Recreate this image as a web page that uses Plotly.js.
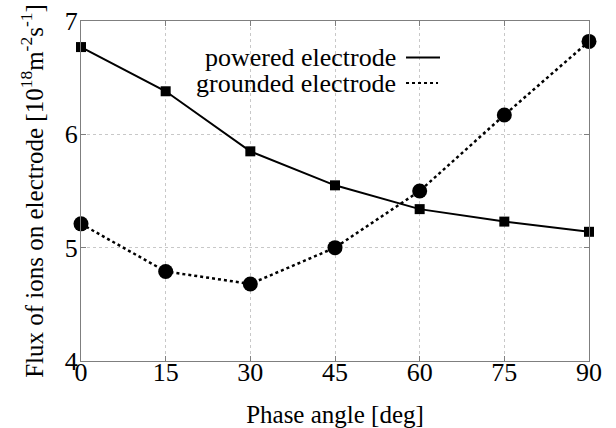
<!DOCTYPE html>
<html>
<head>
<meta charset="utf-8">
<script src="https://cdn.plot.ly/plotly-3.0.1.min.js"></script>
<style>html,body{margin:0;padding:0;background:#fff;}#chart{width:616px;height:428px;}</style>
</head>
<body>
<div id="chart"></div>
<script>
// Data
var phaseAngle = [0, 15, 30, 45, 60, 75, 90];
var poweredFlux = [6.77, 6.38, 5.85, 5.55, 5.34, 5.23, 5.14];
var groundedFlux = [5.21, 4.79, 4.68, 5.00, 5.50, 6.17, 6.82];
var seriesNames = ['powered electrode', 'grounded electrode'];
var xTicks = [0, 15, 30, 45, 60, 75, 90];
var yTicks = [4, 5, 6, 7];

var FONT = '"Liberation Serif", "Times New Roman", Times, serif';

var traces = [
  {
    x: phaseAngle, y: poweredFlux, name: seriesNames[0],
    type: 'scatter', mode: 'lines+markers',
    line: {color: '#000', width: 2, dash: 'solid'},
    marker: {symbol: 'square', size: 10, color: '#000'},
    cliponaxis: false, showlegend: false
  },
  {
    x: phaseAngle, y: groundedFlux, name: seriesNames[1],
    type: 'scatter', mode: 'lines+markers',
    line: {color: '#000', width: 2.5, dash: 'dot'},
    marker: {symbol: 'circle', size: 15, color: '#000'},
    cliponaxis: false, showlegend: false
  }
];

var axisCommon = {
  showline: true, linecolor: '#7f7f7f', linewidth: 1, mirror: 'ticks',
  ticks: 'inside', ticklen: 5, tickwidth: 1, tickcolor: '#7f7f7f',
  showgrid: true, gridcolor: '#c8c8c8', gridwidth: 1, griddash: 'dot',
  zeroline: false, tickfont: {family: FONT, size: 26, color: '#000'}
};

// legend drawn gnuplot-style: text then line sample on the right
var lx0 = 0.6398, lx1 = 0.7067, ltx = 0.624;
var ly = [0.8926, 0.8176];

var layout = {
  width: 616, height: 428,
  margin: {l: 81, r: 27, t: 21, b: 67, pad: 0},
  paper_bgcolor: '#fff', plot_bgcolor: '#fff',
  font: {family: FONT, color: '#000', size: 26},
  xaxis: Object.assign({}, axisCommon, {
    range: [0, 90], tickvals: xTicks, ticktext: xTicks.map(String),
    ticklabelstandoff: -12,
    title: {text: 'Phase angle [deg]', font: {family: FONT, size: 25, color: '#000'}, standoff: 22},
    automargin: false
  }),
  yaxis: Object.assign({}, axisCommon, {
    range: [4, 7], tickvals: yTicks, ticktext: yTicks.map(String),
    ticklabelstandoff: -3,
    title: {text: 'Flux of ions on electrode [10<sup>18</sup>m<sup>-2</sup>s<sup>-1</sup>]', font: {family: FONT, size: 25, color: '#000'}, standoff: 14},
    automargin: false
  }),
  shapes: [
    {type: 'rect', xref: 'paper', yref: 'paper', x0: 0.2303, x1: 0.7165, y0: 0.7765, y1: 0.9324,
     fillcolor: '#fff', line: {width: 0}, layer: 'between'},
    {type: 'line', xref: 'paper', yref: 'paper', x0: lx0, x1: lx1, y0: ly[0], y1: ly[0],
     line: {color: '#000', width: 2, dash: 'solid'}},
    {type: 'line', xref: 'paper', yref: 'paper', x0: lx0, x1: 0.7028, y0: ly[1], y1: ly[1],
     line: {color: '#000', width: 2, dash: 'dot'}}
  ],
  annotations: seriesNames.map(function (n, i) {
    return {text: n, xref: 'paper', yref: 'paper', x: ltx, y: ly[i],
      xanchor: 'right', yanchor: 'middle', showarrow: false,
      font: {family: FONT, size: 26, color: '#000'}};
  })
};

Plotly.newPlot('chart', traces, layout, {displayModeBar: false, staticPlot: true});
</script>
</body>
</html>
